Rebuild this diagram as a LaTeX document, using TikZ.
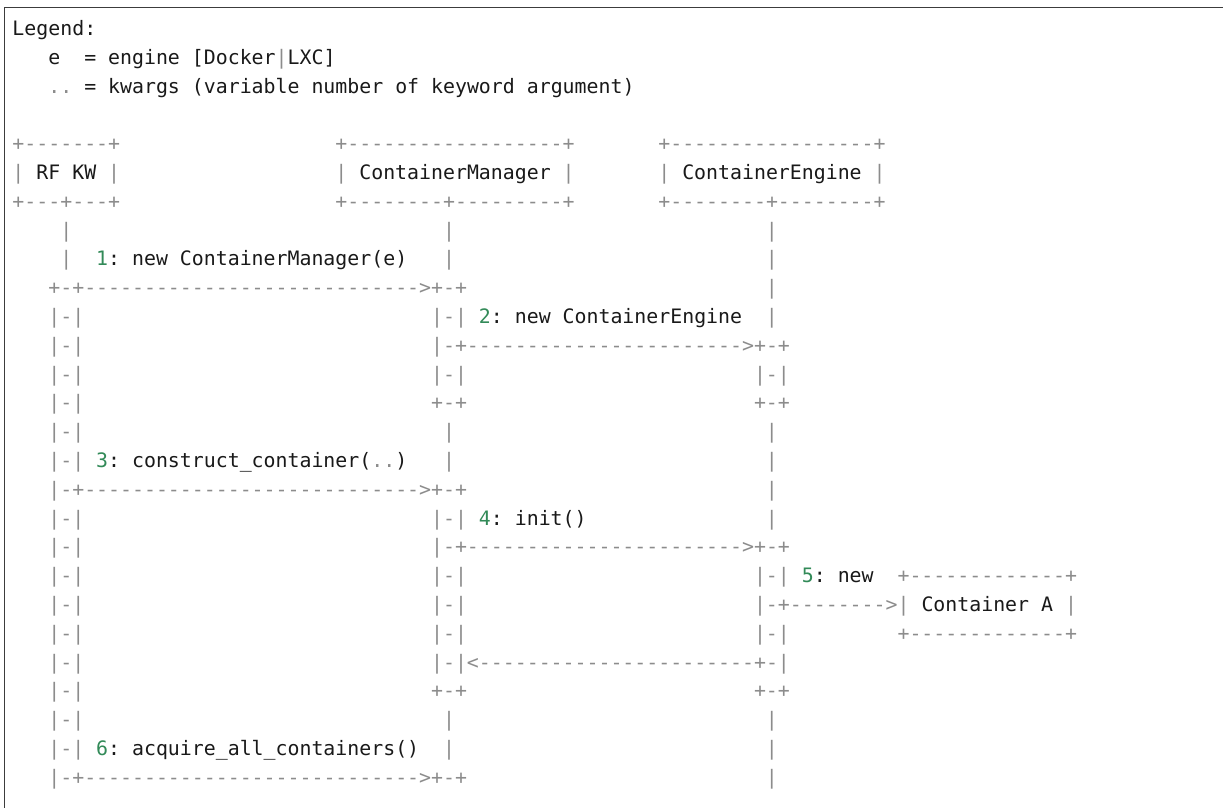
\documentclass[tikz,border=0pt]{standalone}
\usepackage{fontspec}
\setmonofont{DejaVu Sans Mono}
\definecolor{artgray}{RGB}{140,140,140}
\definecolor{numgreen}{RGB}{50,138,88}
\definecolor{txt}{RGB}{25,25,25}
\definecolor{framec}{RGB}{60,60,60}
\newcommand\artg[1]{{\color{artgray}#1}}
\newcommand\numg[1]{{\color{numgreen}#1}}
\newcommand\T[4]{\node[ln] (#1) at ({12.5+11.96*#2},{35.5+28.8*#3}) {#4};}
\begin{document}
\begin{tikzpicture}[x=1pt,y=-1pt,
  ln/.style={anchor=base west, inner sep=0pt, outer sep=0pt,
    font=\ttfamily\fontsize{19.87}{24}\selectfont, text=txt}]
\useasboundingbox (0,0) rectangle (1223,808);
\draw[framec, line width=1.4pt] (4.5,808) -- (4.5,7.5) -- (1223,7.5);
% legend
\T{legend}{0}{0}{Legend:}
\T{le}{3}{1}{e}
\T{lei}{6}{1}{= engine [Docker\artg{|}LXC]}
\T{ld}{3}{2}{\artg{..}}
\T{ldi}{6}{2}{= kwargs (variable number of keyword argument)}
% boxes
\T{rfT}{0}{4}{\artg{+-------+}}
\T{cmT}{27}{4}{\artg{+------------------+}}
\T{ceT}{54}{4}{\artg{+-----------------+}}
\T{rfM}{0}{5}{\artg{|} RF KW \artg{|}}
\T{cmM}{27}{5}{\artg{|} ContainerManager \artg{|}}
\T{ceM}{54}{5}{\artg{|} ContainerEngine \artg{|}}
\T{rfB}{0}{6}{\artg{+---+---+}}
\T{cmB}{27}{6}{\artg{+--------+---------+}}
\T{ceB}{54}{6}{\artg{+--------+--------+}}
% row 7
\T{a7}{4}{7}{\artg{|}}
\T{b7}{36}{7}{\artg{|}}
\T{c7}{63}{7}{\artg{|}}
% row 8
\T{a8}{4}{8}{\artg{|}}
\T{m1}{7}{8}{\numg{1}: new ContainerManager(e)}
\T{b8}{36}{8}{\artg{|}}
\T{c8}{63}{8}{\artg{|}}
% row 9
\T{a9}{3}{9}{\artg{+-+---------------------------->+-+}}
\T{c9}{63}{9}{\artg{|}}
% row 10
\T{a10}{3}{10}{\artg{|-|}}
\T{b10}{35}{10}{\artg{|-|}}
\T{m2}{39}{10}{\numg{2}: new ContainerEngine}
\T{c10}{63}{10}{\artg{|}}
% row 11
\T{a11}{3}{11}{\artg{|-|}}
\T{b11}{35}{11}{\artg{|-+----------------------->+-+}}
% row 12
\T{a12}{3}{12}{\artg{|-|}}
\T{b12}{35}{12}{\artg{|-|}}
\T{c12}{62}{12}{\artg{|-|}}
% row 13
\T{a13}{3}{13}{\artg{|-|}}
\T{b13}{35}{13}{\artg{+-+}}
\T{c13}{62}{13}{\artg{+-+}}
% row 14
\T{a14}{3}{14}{\artg{|-|}}
\T{b14}{36}{14}{\artg{|}}
\T{c14}{63}{14}{\artg{|}}
% row 15
\T{a15}{3}{15}{\artg{|-|}}
\T{m3}{7}{15}{\numg{3}: construct\_container(\artg{..})}
\T{b15}{36}{15}{\artg{|}}
\T{c15}{63}{15}{\artg{|}}
% row 16
\T{a16}{3}{16}{\artg{|-+---------------------------->+-+}}
\T{c16}{63}{16}{\artg{|}}
% row 17
\T{a17}{3}{17}{\artg{|-|}}
\T{b17}{35}{17}{\artg{|-|}}
\T{m4}{39}{17}{\numg{4}: init()}
\T{c17}{63}{17}{\artg{|}}
% row 18
\T{a18}{3}{18}{\artg{|-|}}
\T{b18}{35}{18}{\artg{|-+----------------------->+-+}}
% row 19
\T{a19}{3}{19}{\artg{|-|}}
\T{b19}{35}{19}{\artg{|-|}}
\T{c19}{62}{19}{\artg{|-|}}
\T{m5}{66}{19}{\numg{5}: new}
\T{caT}{74}{19}{\artg{+-------------+}}
% row 20
\T{a20}{3}{20}{\artg{|-|}}
\T{b20}{35}{20}{\artg{|-|}}
\T{c20}{62}{20}{\artg{|-+-------->|} Container A \artg{|}}
% row 21
\T{a21}{3}{21}{\artg{|-|}}
\T{b21}{35}{21}{\artg{|-|}}
\T{c21}{62}{21}{\artg{|-|}}
\T{caB}{74}{21}{\artg{+-------------+}}
% row 22
\T{a22}{3}{22}{\artg{|-|}}
\T{b22}{35}{22}{\artg{|-|<-----------------------+-|}}
% row 23
\T{a23}{3}{23}{\artg{|-|}}
\T{b23}{35}{23}{\artg{+-+}}
\T{c23}{62}{23}{\artg{+-+}}
% row 24
\T{a24}{3}{24}{\artg{|-|}}
\T{b24}{36}{24}{\artg{|}}
\T{c24}{63}{24}{\artg{|}}
% row 25
\T{a25}{3}{25}{\artg{|-|}}
\T{m6}{7}{25}{\numg{6}: acquire\_all\_containers()}
\T{b25}{36}{25}{\artg{|}}
\T{c25}{63}{25}{\artg{|}}
% row 26
\T{a26}{3}{26}{\artg{|-+---------------------------->+-+}}
\T{c26}{63}{26}{\artg{|}}
\end{tikzpicture}
\end{document}
